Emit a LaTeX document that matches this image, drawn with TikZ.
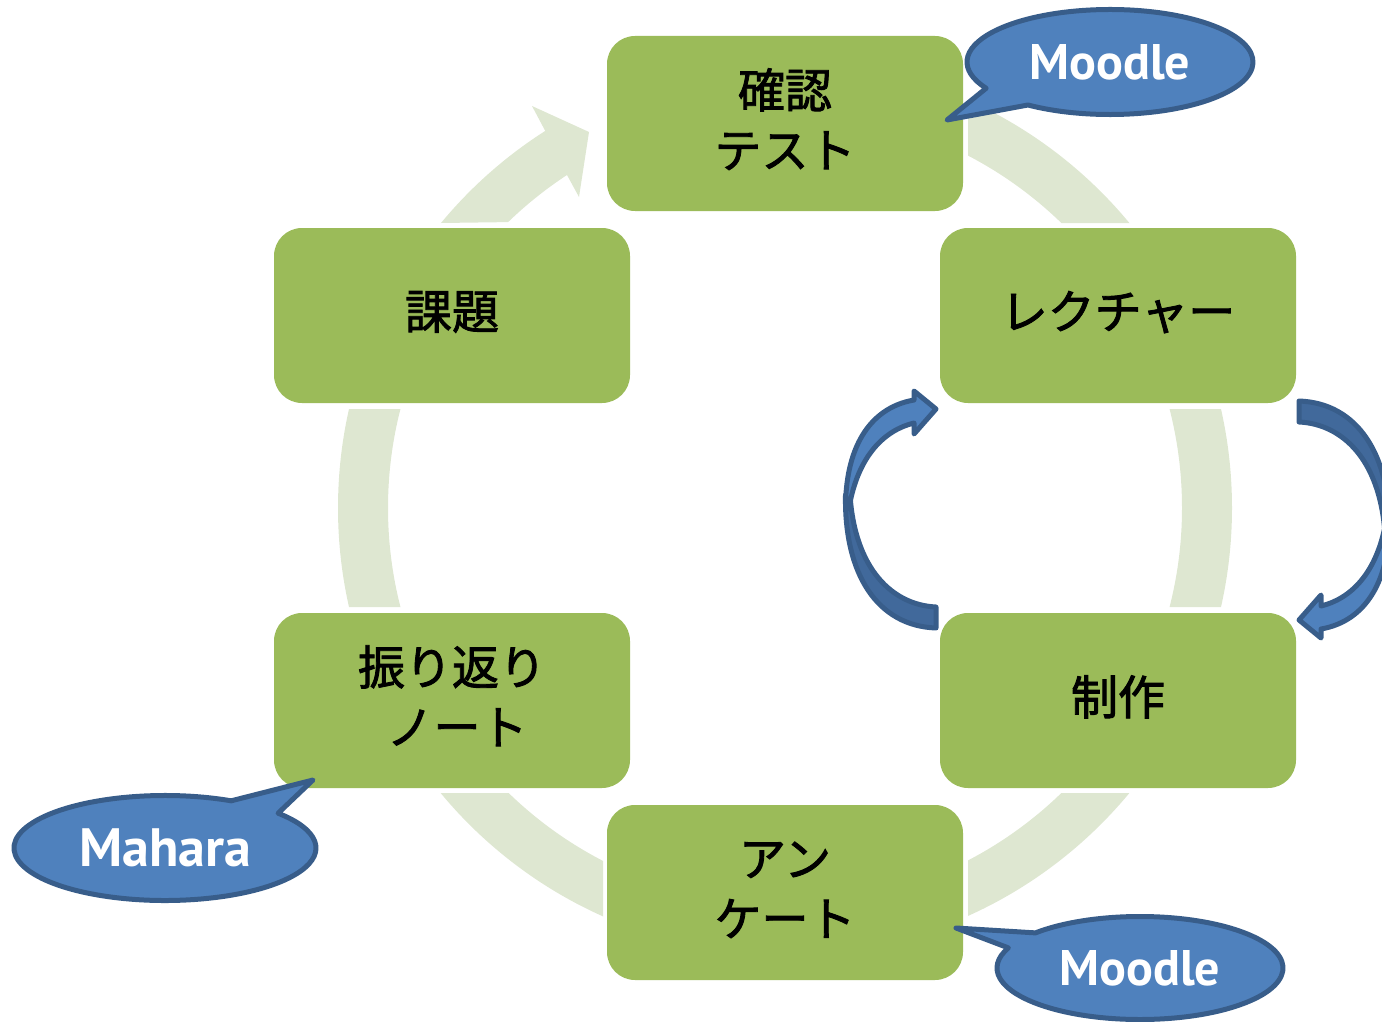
\documentclass[tikz,border=0pt]{standalone}
\usepackage{fontspec}
\setmainfont{Noto Sans CJK JP}
\newfontfamily\latinfont{PT Sans}
\definecolor{boxgreen}{HTML}{9BBB59}
\definecolor{ringgreen}{HTML}{DEE7D1}
\definecolor{bluefill}{HTML}{4F81BD}
\definecolor{bluedark}{HTML}{41699B}
\definecolor{blueline}{HTML}{385D8A}
\newcommand{\lift}{\rule[-11pt]{0pt}{1pt}}
\tikzset{
  stagebox/.style={fill=boxgreen,rounded corners=28pt,minimum width=356pt,minimum height=175pt,inner sep=0pt,align=center,font=\fontsize{47}{60}\selectfont\addfontfeatures{FakeBold=1.8}},
  bubble/.style={fill=bluefill,draw=blueline,line width=5pt,line join=round},
  bubbletext/.style={text=white,inner sep=0pt,font=\latinfont\fontsize{50}{60}\selectfont\bfseries},
  arrowpart/.style={draw=blueline,line width=5pt,line join=round}
}
\newcommand{\curvedarrowshape}{%
  \draw[arrowpart,fill=bluedark] (845.5,495) .. controls (844,575) and (878,626) .. (936,628) -- (936,607) .. controls (893,605) and (855,570) .. (850,495) -- cycle;
  \draw[arrowpart,fill=bluefill] (845.5,510) .. controls (845,450) and (868,408) .. (914,400) -- (914,391) -- (936,409) -- (914,434) -- (914,423) .. controls (885,430) and (858,455) .. (849,508) -- cycle;
}
\begin{document}
\begin{tikzpicture}[x=1pt,y=1pt,yscale=-1]
\useasboundingbox (0,0) rectangle (1382,1022);
\coordinate (ringc) at (785,508);
\begin{scope}
  \clip (968,0) rectangle (1382,223) (1100,409) rectangle (1382,607) (968,793) rectangle (1382,1022) (0,793) rectangle (603,1022) (0,409) rectangle (470,607);
  \fill[ringgreen,even odd rule] (ringc) circle[radius=447pt] (ringc) circle[radius=397pt];
\end{scope}
\fill[ringgreen] (441,223) arc[start angle=219.6,end angle=237.5,radius=447pt] -- (532,106) -- (589,132) -- (579,197) -- (567,175) arc[start angle=236.8,end angle=225.9,radius=397pt] -- cycle;

\node[stagebox] (test) at (785,123.5) {確認\\テスト\lift};
\node[stagebox] (lecture) at (1118,315.5) {レクチャー\lift};
\node[stagebox] (seisaku) at (1118,700.5) {制作\lift};
\node[stagebox] (enquete) at (785,892.5) {アン\\ケート\rule[-7pt]{0pt}{1pt}};
\node[stagebox] (note) at (452,700.5) {振り返り\\\hspace{10pt}ノート\lift};
\node[stagebox] (kadai) at (452,315.5) {課題\lift};

\begin{scope}
  \clip (0,0) rectangle (1382,1022);
  \curvedarrowshape
  \begin{scope}[shift={(2235,1029)},xscale=-1,yscale=-1]
    \curvedarrowshape
  \end{scope}
\end{scope}

\coordinate (c1) at (1110,62);
\coordinate (t1) at (947,120);
\draw[bubble] (t1) -- ([shift={(125:143pt and 52.5pt)}]c1) arc[start angle=125,end angle=-210,x radius=143pt,y radius=52.5pt] -- cycle;
\node[bubbletext] (moodleA) at (c1) {Moodle};

\coordinate (c2) at (1140,968);
\coordinate (t2) at (956,928);
\draw[bubble] (t2) -- ([shift={(223:143pt and 51.5pt)}]c2) arc[start angle=223,end angle=563,x radius=143pt,y radius=51.5pt] -- cycle;
\node[bubbletext] (moodleB) at (c2) {Moodle};

\coordinate (c3) at (165,848);
\coordinate (t3) at (313,780);
\draw[bubble] (t3) -- ([shift={(296:151pt and 52.5pt)}]c3) arc[start angle=296,end angle=-41.5,x radius=151pt,y radius=52.5pt] -- cycle;
\node[bubbletext,font=\latinfont\fontsize{54}{60}\selectfont\bfseries] (mahara) at (c3) {Mahara};
\end{tikzpicture}
\end{document}
